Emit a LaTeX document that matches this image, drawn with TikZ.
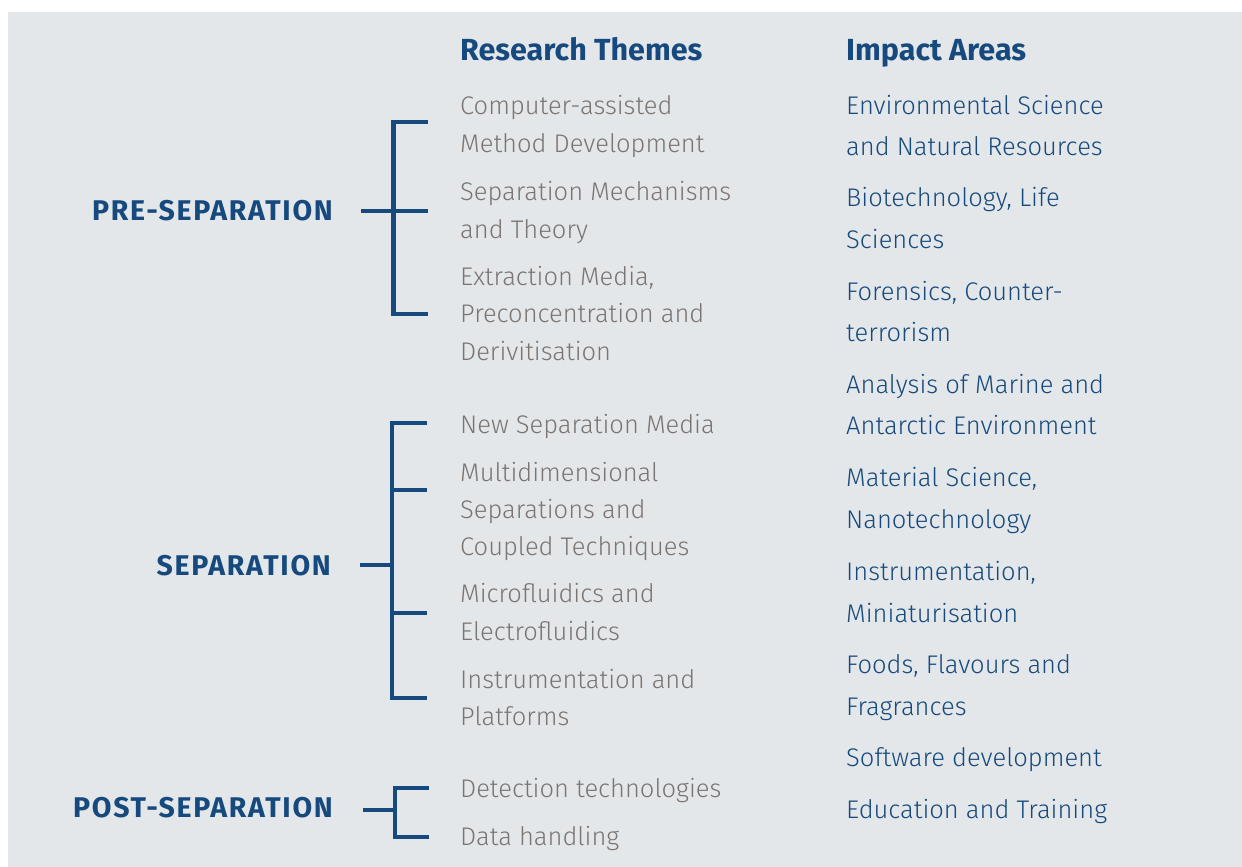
\documentclass[tikz,border=0pt]{standalone}
\usepackage{fontspec}
\setmainfont{Fira Sans}
\newfontfamily\lightf{Fira Sans Light}
\newfontfamily\boldf{Fira Sans Bold}
\newfontfamily\stagef{Fira Sans Bold}[LetterSpace=6]
\definecolor{navy}{HTML}{164A7F}
\definecolor{themegray}{HTML}{7A7572}
\definecolor{bgpanel}{HTML}{E4E7EA}
\tikzset{
  theme/.style={anchor=base west, inner sep=0pt, text=themegray, font=\lightf\fontsize{25.5}{30}\selectfont},
  impact/.style={anchor=base west, inner sep=0pt, text=navy, font=\lightf\fontsize{25.5}{30}\selectfont},
  head/.style={anchor=base west, inner sep=0pt, text=navy, font=\boldf\fontsize{30.5}{34}\selectfont},
  stage/.style={anchor=base east, inner sep=0pt, text=navy, font=\stagef\fontsize{28.5}{32}\selectfont},
  bracket/.style={draw=navy, line width=4.6pt}
}
\begin{document}
\begin{tikzpicture}[x=1pt,y=-1pt]
\useasboundingbox (0,0) rectangle (1242,867);
\fill[bgpanel] (8,12) rectangle (1242,867);

% headings
\node[head] (hthemes) at (460,61) {Research Themes};
\node[head] (himpact) at (846,61) {Impact Areas};

% stages
\node[stage] (pre) at (333,220) {PRE-SEPARATION};
\node[stage] (sep) at (331,575) {SEPARATION};
\node[stage] (post) at (333,817) {POST-SEPARATION};

% research themes
\node[theme] (t1a) at (460,114) {Computer-assisted};
\node[theme] (t1b) at (460,152) {Method Development};
\node[theme] (t2a) at (460,200) {Separation Mechanisms};
\node[theme] (t2b) at (460,238) {and Theory};
\node[theme] (t3a) at (460,285) {Extraction Media,};
\node[theme] (t3b) at (460,322) {Preconcentration and};
\node[theme] (t3c) at (460,360) {Derivitisation};
\node[theme] (t4a) at (460,433) {New Separation Media};
\node[theme] (t5a) at (460,481) {Multidimensional};
\node[theme] (t5b) at (460,518) {Separations and};
\node[theme] (t5c) at (460,555) {Coupled Techniques};
\node[theme] (t6a) at (460,602) {Microfluidics and};
\node[theme] (t6b) at (460,640) {Electrofluidics};
\node[theme] (t7a) at (460,688) {Instrumentation and};
\node[theme] (t7b) at (460,725) {Platforms};
\node[theme] (t8a) at (460,797) {Detection technologies};
\node[theme] (t9a) at (460,845) {Data handling};

% impact areas
\node[impact] (i1a) at (846,114) {Environmental Science};
\node[impact] (i1b) at (846,155) {and Natural Resources};
\node[impact] (i2a) at (846,206) {Biotechnology, Life};
\node[impact] (i2b) at (846,248) {Sciences};
\node[impact] (i3a) at (846,300) {Forensics, Counter-};
\node[impact] (i3b) at (846,341) {terrorism};
\node[impact] (i4a) at (846,393) {Analysis of Marine and};
\node[impact] (i4b) at (846,434) {Antarctic Environment};
\node[impact] (i5a) at (846,486) {Material Science,};
\node[impact] (i5b) at (846,528) {Nanotechnology};
\node[impact] (i6a) at (846,580) {Instrumentation,};
\node[impact] (i6b) at (846,622) {Miniaturisation};
\node[impact] (i7a) at (846,673) {Foods, Flavours and};
\node[impact] (i7b) at (846,715) {Fragrances};
\node[impact] (i8a) at (846,766) {Software development};
\node[impact] (i9a) at (846,818) {Education and Training};

% brackets
\coordinate (pA) at (428,122);
\coordinate (pB) at (393.5,314);
\coordinate (pC) at (428,314);
\coordinate (pS) at (361,211);
\coordinate (pE) at (428,211);
\draw[bracket] (pA) -| (pB) -- (pC);
\draw[bracket] (pS) -- (pE);

\coordinate (sA) at (427,423);
\coordinate (sB) at (392,698);
\coordinate (sC) at (427,698);
\coordinate (s2) at (392,490);
\coordinate (s2e) at (427,490);
\coordinate (s3) at (392,613);
\coordinate (s3e) at (427,613);
\coordinate (sS) at (360,565);
\coordinate (sE) at (392,565);
\draw[bracket] (sA) -| (sB) -- (sC);
\draw[bracket] (s2) -- (s2e);
\draw[bracket] (s3) -- (s3e);
\draw[bracket] (sS) -- (sE);

\coordinate (qA) at (429,788);
\coordinate (qB) at (395,837);
\coordinate (qC) at (429,837);
\coordinate (qS) at (363,810);
\coordinate (qE) at (395,810);
\draw[bracket] (qA) -| (qB) -- (qC);
\draw[bracket] (qS) -- (qE);
\end{tikzpicture}
\end{document}
